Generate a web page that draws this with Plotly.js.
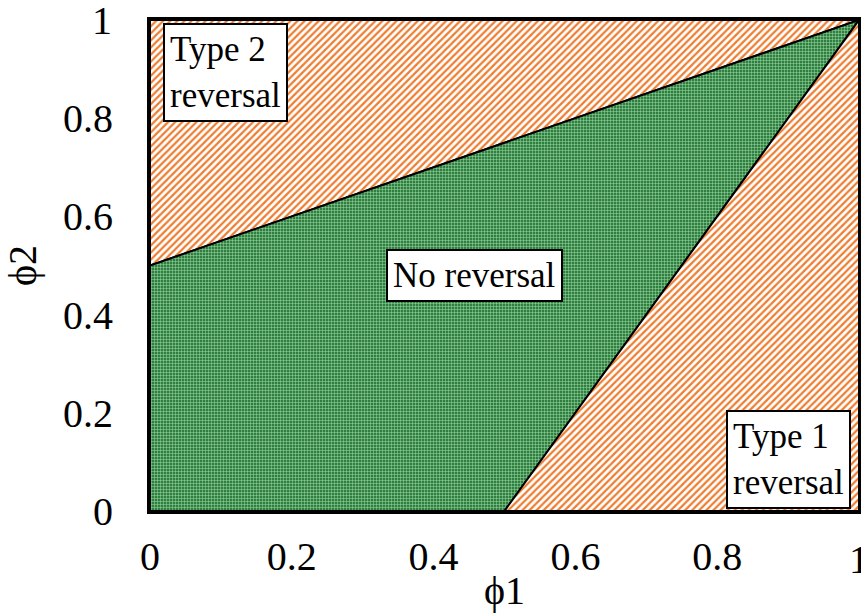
<!DOCTYPE html>
<html><head><meta charset="utf-8">
<script src="https://cdn.plot.ly/plotly-3.0.1.min.js"></script>
<style>html,body{margin:0;padding:0;background:#fff}</style>
</head><body>
<div id="chart" style="width:861px;height:613px"></div>
<script>
// Region boundaries (phi1, phi2)
const type2X = [0, 0, 1, 0];
const type2Y = [0.5, 1, 1, 0.5];
const noRevX = [0, 0, 1, 0.5, 0];
const noRevY = [0, 0.5, 1, 0, 0];
const type1X = [0.5, 1, 1, 0.5];
const type1Y = [0, 1, 0, 0];
const tickVals = [0, 0.2, 0.4, 0.6, 0.8, 1];
const tickText = ['0', '0.2', '0.4', '0.6', '0.8', '1'];
const labels = [
  {text: 'Type 2<br>reversal', x: 0.106, y: 0.894},
  {text: 'No reversal', x: 0.457, y: 0.48},
  {text: 'Type 1<br>reversal', x: 0.901, y: 0.104}
];

const FAM = 'Liberation Serif, Times New Roman, serif';
function F(s) { return {family: FAM, size: s, color: '#000000'}; }

const orangePat = {shape: '/', fgcolor: '#ed7d31', bgcolor: '#ffffff', size: 5, solidity: 0.45};
const greenPat = {shape: '+', fgcolor: '#a3d9ac', bgcolor: '#2f7f3f', size: 3, solidity: 0.3};

const traces = [
  {x: type2X, y: type2Y, mode: 'lines', fill: 'toself', fillcolor: '#ffffff', fillpattern: orangePat,
   line: {color: '#000', width: 2}, hoverinfo: 'skip', showlegend: false},
  {x: noRevX, y: noRevY, mode: 'lines', fill: 'toself', fillcolor: '#2f7f3f', fillpattern: greenPat,
   line: {color: '#000', width: 2}, hoverinfo: 'skip', showlegend: false},
  {x: type1X, y: type1Y, mode: 'lines', fill: 'toself', fillcolor: '#ffffff', fillpattern: orangePat,
   line: {color: '#000', width: 2}, hoverinfo: 'skip', showlegend: false}
];

const annots = labels.map(l => ({
  text: l.text, x: l.x, y: l.y, xref: 'x', yref: 'y', showarrow: false,
  xanchor: 'center', yanchor: 'middle', align: 'left',
  bgcolor: '#ffffff', bordercolor: '#000000', borderwidth: 2, borderpad: 5, font: F(35)
}));
// end tick labels that sit on the plot edges, drawn as in the reference
annots.push({text: tickText[5], x: tickVals[5], y: -0.098, xref: 'x', yref: 'paper', showarrow: false,
  xanchor: 'center', yanchor: 'middle', font: F(40)});
annots.push({text: tickText[5], x: 0, y: tickVals[5], xref: 'paper', yref: 'y', showarrow: false,
  xanchor: 'right', yanchor: 'middle', xshift: -36, font: F(40)});

const layout = {
  width: 861, height: 613,
  margin: {l: 150, r: 2, t: 20, b: 102},
  paper_bgcolor: '#ffffff', plot_bgcolor: '#ffffff',
  font: F(40),
  showlegend: false,
  xaxis: {range: [0, 1], tickvals: tickVals.slice(0, 5), ticktext: tickText.slice(0, 5), showgrid: false, zeroline: false,
          showline: true, mirror: true, linecolor: '#000', linewidth: 3, ticks: '', ticklabelstandoff: 8,
          title: {text: 'ϕ1', font: F(40), standoff: 12}, tickfont: F(40), fixedrange: true, automargin: false},
  yaxis: {range: [0, 1], tickvals: tickVals.slice(0, 5), ticktext: tickText.slice(0, 5), showgrid: false, zeroline: false,
          showline: true, mirror: true, linecolor: '#000', linewidth: 3, ticks: '', ticklabelstandoff: 26,
          title: {text: 'ϕ2', font: F(40), standoff: 20}, tickfont: F(40), fixedrange: true, automargin: false},
  annotations: annots
};

Plotly.newPlot('chart', traces, layout, {displayModeBar: false, staticPlot: true});
</script>
</body></html>
